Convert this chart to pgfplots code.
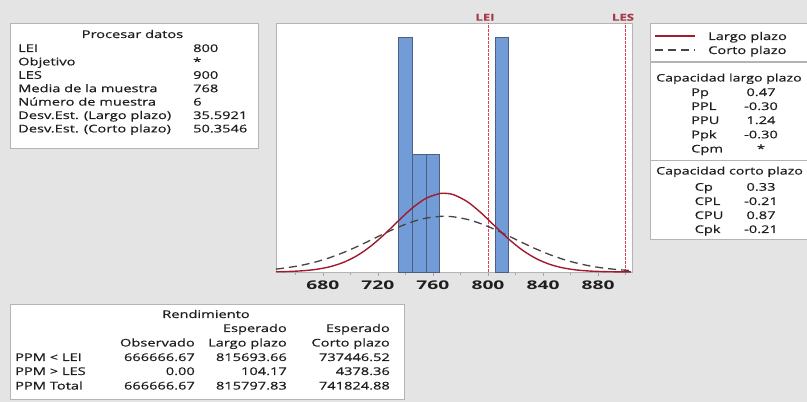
\documentclass[border=0pt]{standalone}
\usepackage{pgfplots}
\pgfplotsset{compat=1.18}
\usepackage{fontspec}
\setmainfont{Open Sans}[FakeStretch=1.38,FakeBold=0.5]
\newfontfamily\tickfont{Open Sans}[FakeStretch=1.6]
\definecolor{bg}{HTML}{E4E4E4}
\definecolor{boxline}{HTML}{B4B4B4}
\definecolor{barblue}{HTML}{729CD8}
\definecolor{baredge}{HTML}{4E5F7E}
\definecolor{curvered}{HTML}{A3192E}
\definecolor{dashgray}{HTML}{454545}
\definecolor{limred}{HTML}{E2404C}
\definecolor{limtext}{HTML}{A53A4A}
\definecolor{txt}{HTML}{1E1E1E}
\begin{document}
\begin{tikzpicture}[x=1pt,y=1pt]
\useasboundingbox (0,0) rectangle (807,402);
\fill[bg] (0,0) rectangle (807,402);
\clip (0,0) rectangle (807,402);
\tikzset{t/.style={inner sep=0pt,text=txt,font=\fontsize{10.6}{12}\selectfont}}
% ---------- Procesar datos ----------
\draw[boxline,fill=white] (10,254) rectangle (258,379);
\node[t,anchor=base] at (132.5,364) {Procesar datos};
\foreach \yy/\a/\b in {350/LEI/800, 336.6/Objetivo/*, 323.2/LES/900, 309.8/Media de la muestra/768, 296.4/Número de muestra/6, 283/Desv.Est. (Largo plazo)/35.5921, 269.6/Desv.Est. (Corto plazo)/50.3546}{
  \node[t,anchor=base west] at (18,\yy) {\a};
  \node[t,anchor=base west] at (193,\yy) {\b};
}
% ---------- Legend ----------
\draw[boxline,fill=white] (650,341) rectangle (812,379);
\draw[curvered,line width=1.3pt] (655,366) -- (695,366);
\node[t,anchor=base west] at (708,362) {Largo plazo};
\draw[dashgray,line width=1.2pt,dash pattern=on 8pt off 5pt] (655,352) -- (695,352);
\node[t,anchor=base west] at (708,348) {Corto plazo};
% ---------- Capacidad ----------
\draw[boxline,fill=white] (650,162.5) rectangle (812,339.3);
\draw[boxline] (650,242) -- (812,242);
\node[t,anchor=base west,font=\fontsize{10.3}{12}\selectfont] at (656,320.5) {Capacidad largo plazo};
\foreach \yy/\a/\b in {306/Pp/0.47, 292/PPL/-0.30, 278/PPU/1.24, 263.7/Ppk/-0.30, 249.5/Cpm/*}{
  \node[t,anchor=base west] at (691,\yy) {\a};
  \node[t,anchor=base] at (761,\yy) {\b};
}
\node[t,anchor=base west,font=\fontsize{10.3}{12}\selectfont] at (656,227.5) {Capacidad corto plazo};
\foreach \yy/\a/\b in {211.3/Cp/0.33, 197/CPL/-0.21, 183/CPU/0.87, 169/Cpk/-0.21}{
  \node[t,anchor=base west] at (694.5,\yy) {\a};
  \node[t,anchor=base] at (761,\yy) {\b};
}
% ---------- Rendimiento ----------
\draw[boxline,fill=white] (10,3) rectangle (404,98);
\node[t,anchor=base] at (206,84) {Rendimiento};
\node[t,anchor=base east] at (287,70) {Esperado};
\node[t,anchor=base east] at (390,70) {Esperado};
\node[t,anchor=base east] at (195,55.5) {Observado};
\node[t,anchor=base east] at (287,55.5) {Largo plazo};
\node[t,anchor=base east] at (390,55.5) {Corto plazo};
\foreach \yy/\a/\b/\c/\d in {41/PPM < LEI/666666.67/815693.66/737446.52, 27/PPM > LES/0.00/104.17/4378.36, 12.5/PPM Total/666666.67/815797.83/741824.88}{
  \node[t,anchor=base west] at (15,\yy) {\a};
  \node[t,anchor=base east] at (195,\yy) {\b};
  \node[t,anchor=base east] at (287,\yy) {\c};
  \node[t,anchor=base east] at (390,\yy) {\d};
}
% ---------- LEI / LES labels ----------
\node[inner sep=0pt,anchor=base,text=limtext,font=\fontsize{9.5}{10}\selectfont\bfseries] at (485,381.3) {LEI};
\node[inner sep=0pt,anchor=base,text=limtext,font=\fontsize{9.5}{10}\selectfont\bfseries] at (623,381.3) {LES};
% ---------- Histogram axis ----------
\begin{axis}[
  at={(276pt,130pt)}, anchor=south west, scale only axis,
  width=355.7pt, height=249pt,
  xmin=646, xmax=904.4, ymin=0, ymax=2.1255,
  axis background/.style={fill=white},
  axis line style={boxline},
  ytick=\empty,
  xtick={680,720,760,800,840,880},
  minor xtick={660,700,740,780,820,860,900},
  tick align=outside, tick pos=bottom,
  major tick length=4pt, minor tick length=3pt,
  every tick/.style={gray!70},
  /pgf/number format/assume math mode=true,
  xticklabel style={font=\tickfont\fontsize{12}{12}\selectfont\bfseries, text=txt, yshift=-1.5pt},
  clip=false,
]
\addplot[ybar interval, fill=barblue, draw=baredge, line width=0.7pt] coordinates {(735,2) (745,1) (755,1) (765,1)};
\addplot[ybar interval, fill=barblue, draw=baredge, line width=0.7pt] coordinates {(805,2) (815,2)};
\addplot[limred, line width=0.9pt, dash pattern=on 2.5pt off 1.5pt] coordinates {(800,0) (800,2.1255)};
\addplot[limred, line width=0.9pt, dash pattern=on 2.5pt off 1.5pt] coordinates {(900,0) (900,2.1255)};
% short-term (dashed), sd 50.3546
\addplot[dashgray, line width=1.3pt, dash pattern=on 8pt off 5pt, smooth] coordinates {
(646,0.0247)(655,0.03832)(665,0.05867)(675,0.08638)(685,0.1222)(695,0.1662)(705,0.2173)(715,0.2732)(725,0.3302)(735,0.3836)(745,0.4283)(755,0.4598)(765,0.4746)(768,0.4754)(775,0.4708)(785,0.4491)(795,0.4118)(805,0.3629)(815,0.3075)(825,0.2505)(835,0.1962)(845,0.1477)(855,0.1069)(865,0.07435)(875,0.04973)(885,0.03198)(895,0.01976)(904,0.0122)};
% long-term (solid), sd 35.5921
\addplot[curvered, line width=1.4pt, smooth] coordinates {
(646,0.0019)(655,0.00435)(665,0.01022)(675,0.02214)(685,0.04436)(695,0.08207)(705,0.1404)(715,0.2220)(725,0.3242)(735,0.4376)(745,0.5459)(755,0.6292)(765,0.6702)(768,0.6726)(775,0.6597)(785,0.6001)(795,0.5045)(805,0.3919)(815,0.2813)(825,0.1866)(835,0.1144)(845,0.06479)(855,0.03391)(865,0.01641)(875,0.00733)(885,0.00303)(895,0.00116)(904,0.0004)};
\end{axis}
\end{tikzpicture}
\end{document}
